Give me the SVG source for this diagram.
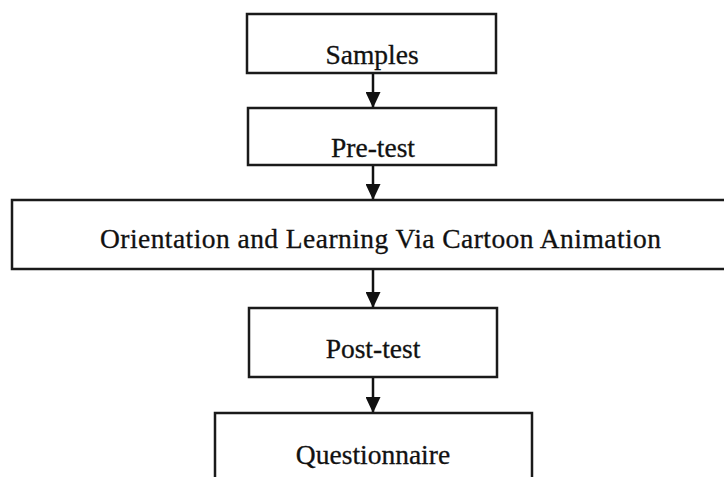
<svg xmlns="http://www.w3.org/2000/svg" width="724" height="477" viewBox="0 0 724 477">
  <style>
    .box { fill: #ffffff; stroke: #1a1a1a; stroke-width: 2.5; }
    .lbl { font-family: "Liberation Serif", "Times New Roman", serif; font-size: 27.5px; fill: #111111; stroke: #111111; stroke-width: 0.3; text-anchor: middle; }
    .conn { stroke: #111111; stroke-width: 2.5; fill: none; marker-end: url(#arrow); }
  </style>
  <defs>
    <marker id="arrow" markerUnits="userSpaceOnUse" markerWidth="16" markerHeight="15" refX="16" refY="7.5" orient="auto">
      <path d="M0,0 L16,7.5 L0,15 Z" fill="#111111"/>
    </marker>
  </defs>
  <rect width="724" height="477" fill="#ffffff"/>

  <g id="connectors">
    <line class="conn" x1="373" y1="73" x2="373" y2="108"/>
    <line class="conn" x1="373" y1="165" x2="373" y2="200"/>
    <line class="conn" x1="373" y1="269" x2="373" y2="308"/>
    <line class="conn" x1="373" y1="377" x2="373" y2="413"/>
  </g>

  <g id="samples">
    <rect class="box" x="247" y="14" width="249" height="59"/>
    <text class="lbl" x="372" y="64">Samples</text>
  </g>

  <g id="pretest">
    <rect class="box" x="248" y="108" width="248" height="57"/>
    <text class="lbl" x="373" y="157">Pre-test</text>
  </g>

  <g id="orientation">
    <rect class="box" x="12" y="200" width="720" height="69"/>
    <text class="lbl" x="380.5" y="248" textLength="561" lengthAdjust="spacing">Orientation and Learning Via Cartoon Animation</text>
  </g>

  <g id="posttest">
    <rect class="box" x="249" y="308" width="248" height="69"/>
    <text class="lbl" x="373" y="358">Post-test</text>
  </g>

  <g id="questionnaire">
    <rect class="box" x="215" y="413" width="317" height="80"/>
    <text class="lbl" x="373" y="464">Questionnaire</text>
  </g>
</svg>
